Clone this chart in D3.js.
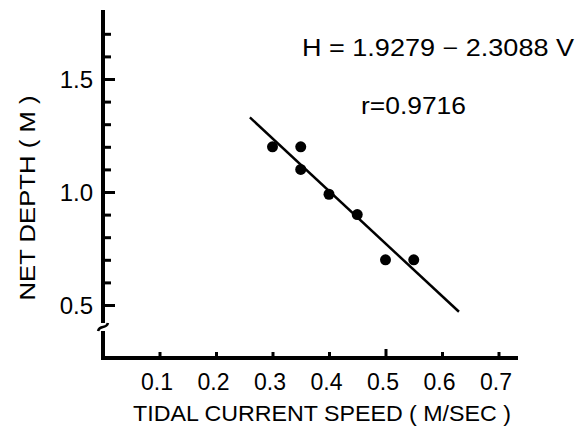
<!DOCTYPE html>
<html>
<head>
<meta charset="utf-8">
<script src="https://cdn.jsdelivr.net/npm/d3@7"></script>
<style>
  body { margin: 0; background: #fff; }
  svg { display: block; }
  text { font-family: "Liberation Sans", Arial, sans-serif; fill: #000; }
</style>
</head>
<body>
<svg id="chart" width="579" height="432"></svg>
<script>
// observations
const speed = [0.30, 0.35, 0.35, 0.40, 0.45, 0.50, 0.55];
const depth = [1.20, 1.20, 1.10, 0.99, 0.90, 0.70, 0.70];

// regression line end points (H = 1.9279 - 2.3088 V)
const fitSpeed = [0.26, 0.63];
const fitDepth = [1.33, 0.47];

// ticks
const xTickValues = [0.1, 0.2, 0.3, 0.4, 0.5, 0.6, 0.7];
const xTickLabels = ["0.1", "0.2", "0.3", "0.4", "0.5", "0.6", "0.7"];
const yTickValues = [0.5, 0.6, 0.7, 0.8, 0.9, 1.0, 1.1, 1.2, 1.3, 1.4, 1.5, 1.6, 1.7];
const yLabelValues = [0.5, 1.0, 1.5];
const yLabels = ["0.5", "1.0", "1.5"];

const svg = d3.select("#chart");
const ox = 103, oy = 358;

const x = d3.scaleLinear().domain([0, 0.74]).range([ox, ox + 565 * 0.74]);
const y = d3.scaleLinear().domain([1, 1.805]).range([192, 192 - 226 * 0.805]);

// y axis: inward ticks, longer at labelled values
const yTicks = svg.append("g").attr("transform", `translate(${ox},0)`)
    .call(d3.axisRight(y).tickValues(yTickValues).tickSize(7).tickFormat(""));
yTicks.select(".domain").remove();
yTicks.selectAll("line")
    .attr("stroke", "#000")
    .attr("stroke-width", 3)
    .attr("x2", d => yLabelValues.includes(d) ? 12 : 8);

svg.append("line")
    .attr("x1", ox).attr("x2", ox)
    .attr("y1", y(1.805)).attr("y2", oy)
    .attr("stroke", "#000").attr("stroke-width", 4);

// axis break mark
svg.append("rect")
    .attr("x", ox - 3).attr("y", 323).attr("width", 6).attr("height", 8)
    .attr("fill", "#fff");
svg.append("path")
    .attr("d", `M${ox - 5},331 C${ox - 3},324 ${ox + 3},330 ${ox + 5},323`)
    .attr("fill", "none").attr("stroke", "#000").attr("stroke-width", 2.5);

const yLab = svg.append("g").attr("transform", `translate(${ox - 7},0)`)
    .call(d3.axisLeft(y).tickValues(yLabelValues).tickSize(0)
        .tickFormat((d, i) => yLabels[i]));
yLab.select(".domain").remove();
yLab.selectAll("text")
    .style("font-size", "24px")
    .style("font-family", "Liberation Sans, Arial, sans-serif")
    .attr("dy", "0.36em")
    .attr("fill", "#000");

// x axis: upward ticks
const xTicks = svg.append("g").attr("transform", `translate(0,${oy})`)
    .call(d3.axisTop(x).tickValues(xTickValues).tickSize(6).tickFormat(""));
xTicks.select(".domain").remove();
xTicks.selectAll("line")
    .attr("stroke", "#000")
    .attr("stroke-width", 3)
    .attr("y2", d => d === 0.5 ? -9 : -6);

svg.append("line")
    .attr("x1", ox - 2).attr("x2", 518)
    .attr("y1", oy).attr("y2", oy)
    .attr("stroke", "#000").attr("stroke-width", 4);

const xLab = svg.append("g").attr("transform", `translate(-3,${oy + 13})`)
    .call(d3.axisBottom(x).tickValues(xTickValues).tickSize(0)
        .tickFormat((d, i) => xTickLabels[i]));
xLab.select(".domain").remove();
xLab.selectAll("text")
    .style("font-size", "23px")
    .style("font-family", "Liberation Sans, Arial, sans-serif")
    .attr("fill", "#000");

// axis titles
svg.append("text")
    .attr("x", 322).attr("y", 421)
    .attr("text-anchor", "middle")
    .style("font-size", "22px")
    .attr("textLength", 378)
    .attr("lengthAdjust", "spacingAndGlyphs")
    .text("TIDAL CURRENT SPEED ( M/SEC )");

svg.append("text")
    .attr("transform", "translate(35,198) rotate(-90)")
    .attr("text-anchor", "middle")
    .style("font-size", "22px")
    .attr("textLength", 205)
    .attr("lengthAdjust", "spacingAndGlyphs")
    .text("NET DEPTH ( M )");

// regression line
svg.append("line")
    .attr("x1", x(fitSpeed[0])).attr("y1", y(fitDepth[0]))
    .attr("x2", x(fitSpeed[1])).attr("y2", y(fitDepth[1]))
    .attr("stroke", "#000").attr("stroke-width", 2.5);

// points
svg.append("g").selectAll("circle")
    .data(speed)
    .enter().append("circle")
    .attr("cx", d => x(d))
    .attr("cy", (d, i) => y(depth[i]))
    .attr("r", 5.5)
    .attr("fill", "#000");

// annotation
svg.append("text")
    .attr("x", 302).attr("y", 56)
    .style("font-size", "23px")
    .attr("textLength", 272)
    .attr("lengthAdjust", "spacingAndGlyphs")
    .text("H = 1.9279 \u2212 2.3088 V");

svg.append("text")
    .attr("x", 361).attr("y", 114)
    .style("font-size", "23px")
    .attr("textLength", 105)
    .attr("lengthAdjust", "spacingAndGlyphs")
    .text("r=0.9716");
</script>
</body>
</html>
